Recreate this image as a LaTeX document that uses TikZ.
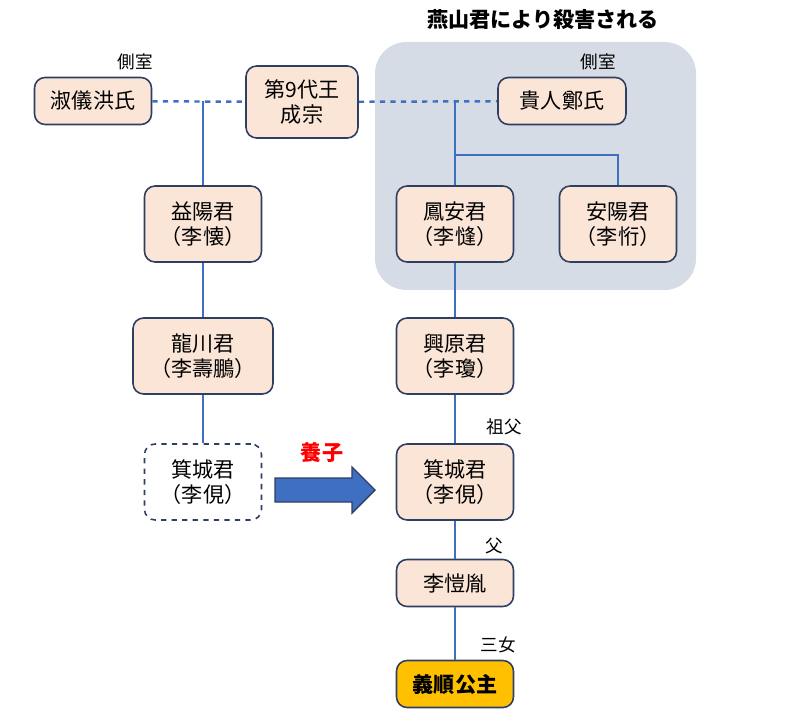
\documentclass[tikz,border=0pt]{standalone}
\usepackage{fontspec}
\setmainfont{Noto Sans CJK JP}
\definecolor{boxfill}{HTML}{FBE5D6}
\definecolor{boxline}{HTML}{2F3E63}
\definecolor{linkblue}{HTML}{3F6FC0}
\definecolor{groupfill}{HTML}{D6DCE5}
\definecolor{gold}{HTML}{FFC000}
\begin{document}
\begin{tikzpicture}[x=0.02cm,y=-0.02cm]
        % Define styles
        \tikzset{
            person/.style={rectangle, rounded corners=6pt, draw=boxline, line width=0.9pt, fill=boxfill, align=center, font=\large, minimum width=2.34cm, minimum height=1.52cm, inner sep=2pt},
            short/.style={person, minimum height=0.94cm},
            adopted/.style={person, fill=white, dashed},
            princess/.style={short, fill=gold, font=\large\bfseries},
            link/.style={draw=linkblue, line width=1.4pt},
            spouse/.style={link, dashed},
            note/.style={font=\normalsize}
        }
        \useasboundingbox (0,0) rectangle (800,722);

        % Group
        \fill[groupfill, rounded corners=18pt] (375,42) rectangle (696,290);
        \node[font=\large\bfseries] (title) at (543,20) {燕山君により殺害される};

        % Nodes
        \node[short] (hong) at (93,101) {淑儀洪氏};
        \node[person, minimum width=2.24cm, minimum height=1.44cm] (king) at (302,102) {第9代王\\成宗};
        \node[short, minimum width=2.56cm] (jeong) at (562,101) {貴人鄭氏};
        \node[person] (ikyo) at (203,224) {益陽君\\（李懐）};
        \node[person] (hoan) at (455,224) {鳳安君\\（李㦀）};
        \node[person] (anyo) at (618,224) {安陽君\\（李㤚）};
        \node[person, minimum width=2.8cm] (ryusen) at (203,356) {龍川君\\（李壽鵬）};
        \node[person] (kogen) at (455,356) {興原君\\（李瓊）};
        \node[adopted] (kijo_old) at (203,482) {箕城君\\（李俔）};
        \node[person] (kijo) at (455,482) {箕城君\\（李俔）};
        \node[short] (kaiin) at (455,583) {李愷胤};
        \node[princess] (gijun) at (455,684) {義順公主};

        % Labels
        \node[note] (sokushitsu_l) at (135,62) {側室};
        \node[note] (sokushitsu_r) at (598,62) {側室};
        \node[note] (sofu) at (504,427) {祖父};
        \node[note] (chichi) at (494,546) {父};
        \node[note] (sanjo) at (498,645) {三女};
        \node[font=\large\bfseries, text=red] (yoshi) at (322,452) {養子};

        % Adoption arrow
        \filldraw[fill=linkblue, draw=boxline, line width=0.8pt]
            (275,478) -- (352,478) -- (352,467) -- (375,490) -- (352,513) -- (352,502) -- (275,502) -- cycle;

        % Lines
        \coordinate (hub_l) at (203,101);
        \coordinate (hub_r) at (455,101);
        \coordinate (fork) at (455,155);
        \coordinate (fork_r) at (618,155);
        \draw[spouse] (hong) -- (king);
        \draw[spouse] (king) -- (jeong);
        \draw[link] (hub_l) -- (ikyo);
        \draw[link] (hub_r) -- (hoan);
        \draw[link] (fork) -- (fork_r) -- (anyo);
        \draw[link] (ikyo) -- (ryusen);
        \draw[link] (ryusen) -- (kijo_old);
        \draw[link] (hoan) -- (kogen);
        \draw[link] (kogen) -- (kijo);
        \draw[link] (kijo) -- (kaiin);
        \draw[link] (kaiin) -- (gijun);
    \end{tikzpicture}
\end{document}
